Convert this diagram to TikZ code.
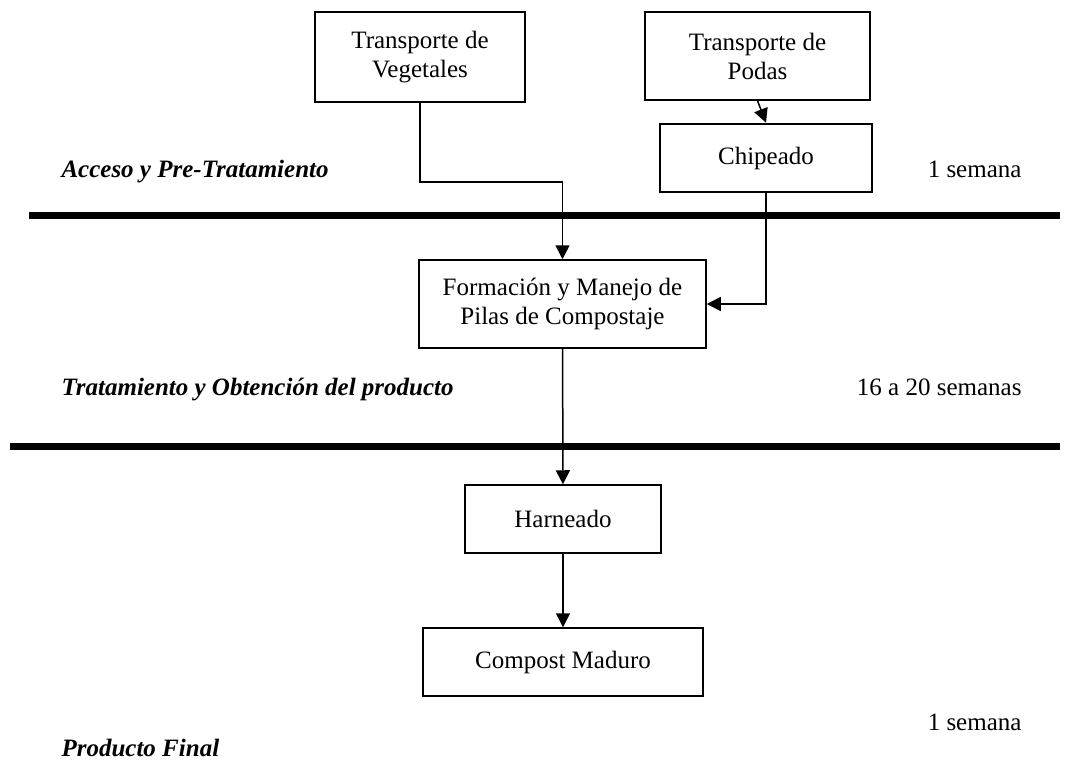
\documentclass[tikz,border=0pt]{standalone}
\usepackage{fontspec}
\setmainfont{Liberation Serif}
\usetikzlibrary{arrows.meta,positioning}

\begin{document}
\begin{tikzpicture}[x=1pt,y=-1pt,>={Triangle[length=14pt,width=14pt]},
font=\fontsize{25}{29}\selectfont,
box/.style={draw,line width=1.5pt,align=center,inner sep=0pt},
arr/.style={->,line width=1.5pt},
rule/.style={line width=7pt},
fase/.style={anchor=base west,font=\fontsize{25}{29}\selectfont\bfseries\itshape},
plazo/.style={anchor=base east}]
\useasboundingbox (0,0) rectangle (1071,768);
\node[box,minimum width=210pt,minimum height=90pt] (tv) at (420,57) {Transporte de\\Vegetales};
\node[box,minimum width=225pt,minimum height=88pt] (tp) at (757.5,56) {Transporte de\\Podas};
\node[box,line width=2.6pt,minimum width=212pt,minimum height=68pt] (chip) at (766,158) {Chipeado};
\node[box,minimum width=287pt,minimum height=88pt] (form) at (562.5,304) {Formación y Manejo de\\Pilas de Compostaje};
\node[box,minimum width=196pt,minimum height=68pt] (harn) at (563,519) {Harneado};
\node[box,minimum width=280pt,minimum height=68pt] (comp) at (563,662) {Compost Maduro};
\draw[arr] (tv.south) -- ++(0,79) -| (form.north);
\draw[arr] (tp.south) -- (chip.north);
\draw[arr] (chip.south) |- (form.east);
\draw[arr] (form) -- (harn);
\draw[arr] (harn) -- (comp);
% separadores de etapas
\draw[rule] (29,215) -- (1060,215);
\draw[rule] (10,446) -- (1060,446);
\node[fase] (f1) at (58,177) {Acceso y Pre-Tratamiento};
\node[fase] (f2) at (58,395) {Tratamiento y Obtención del producto};
\node[fase] (f3) at (58,756) {Producto Final};
\node[plazo] (p1) at (1025,177) {1 semana};
\node[plazo] (p2) at (1025,395) {16 a 20 semanas};
\node[plazo] (p3) at (1025,730) {1 semana};
\end{tikzpicture}
\end{document}
